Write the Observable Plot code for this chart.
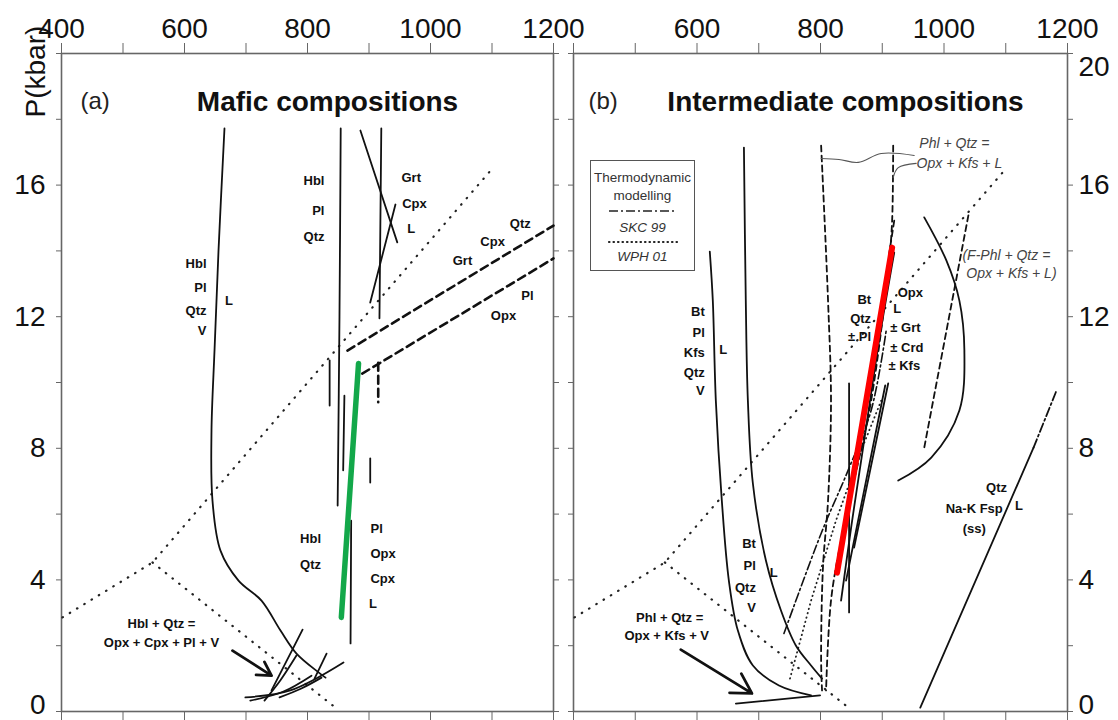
<!DOCTYPE html>
<html><head><meta charset="utf-8">
<script src="https://cdn.jsdelivr.net/npm/d3@7"></script>
<script src="https://cdn.jsdelivr.net/npm/@observablehq/plot@0.6"></script>
<style>
body{margin:0;background:#fff;}
#wrap{position:relative;width:1118px;height:720px;font-family:"Liberation Sans",Arial,Helvetica,sans-serif;overflow:hidden;}
#wrap > svg{position:absolute;top:0;overflow:visible;}
#legend{position:absolute;left:590px;top:160px;width:103px;height:109px;border:1.5px solid #555;background:#fff;}
</style></head><body><div id="wrap"></div>
<script>
// ---------- axes ----------
const xTicks = [400,500,600,700,800,900,1000,1100,1200];
const xLabelsA = [400,600,800,1000,1200];
const xLabelsB = [600,800,1000,1200];
const yTicks = [0,2,4,6,8,10,12,14,16,18,20];
const yLabels = [4,8,12,16];
const yBottomLabel = [0];
const yTopLabel = [20];

// ---------- shared dotted reactions (T °C, P kbar) ----------
const dottedSolidus = [[401.6,2.86],[548,4.53],[1097.6,16.44]];
const dottedBreakdown = [[548,4.53],[850,0.05]];

// ---------- panel (a) mafic ----------
const hblSolidus = [[665,17.72],[655.3,14.01],[648.8,10.97],[643.9,8.54],[645.5,6.41],[658.5,4.89],[687.8,3.98],[725.2,3.37],[756.1,2.46],[782.1,1.76],[817.9,1.19],[829.3,1.03]];
const hblOut = [[854,17.72],[852,12],[849,6.26]];
const grtVert = [[920,17.72],[917,11.95]];
const grtDiagA = [[886,17.66],[946,14.26]];
const grtDiagB = [[943,15.41],[902,12.43]];
const segA = [[836,10.67],[836,9.3]];
const segB = [[860,9.6],[858,7.33]];
const segC = [[902,7.69],[902,6.96]];
const segD = [[871,5.8],[870,2.07]];
const lowA1 = [[792,2.49],[765,1.5],[741.5,0.64]];
const lowA2 = [[782,1.7],[756,0.95],[730,0.33]];
const lowA3 = [[831,1.76],[811.4,1.0]];
const lowR1 = [[699,0.43],[772,0.64],[858.5,1.49]];
const lowR2 = [[707,0.33],[760,0.6],[806.5,1.09]];
const lowR3 = [[754.5,0.43],[790,0.7],[822.8,1.03]];
const dashUpper = [[865,10.97],[1200,14.77]];
const dashLower = [[889,10.27],[1200,13.77]];
const dashShort = [[915,10.6],[915,9.4]];
const greenLine = [[883,10.58],[855,2.86]];
const arrowA = [[678,1.85],[741.5,1.09]];

const labA_end = [
  {t:"Hbl",T:635.8,P:13.62},{t:"Pl",T:635.8,P:12.89},{t:"Qtz",T:635.8,P:12.19},{t:"V",T:635.8,P:11.58},
  {t:"Hbl",T:827.6,P:16.14},{t:"Pl",T:827.6,P:15.23},{t:"Qtz",T:827.6,P:14.44},
  {t:"Hbl",T:822,P:5.26},{t:"Qtz",T:822,P:4.47}
];
const labA_start = [
  {t:"L",T:666,P:12.49},
  {t:"Grt",T:952.8,P:16.23},{t:"Cpx",T:954,P:15.44},{t:"L",T:962,P:14.68},
  {t:"Pl",T:902.4,P:5.56},{t:"Opx",T:902.4,P:4.8},{t:"Cpx",T:902.4,P:4.04},{t:"L",T:900,P:3.28}
];
const labA_mid = [
  {t:"Qtz",T:1146,P:14.83},{t:"Cpx",T:1101,P:14.29},{t:"Grt",T:1052,P:13.71},
  {t:"Pl",T:1157.7,P:12.64},{t:"Opx",T:1118.7,P:12.04},
  {t:"Hbl + Qtz =",T:562.6,P:2.67},{t:"Opx + Cpx + Pl + V",T:562.6,P:2.1}
];

// ---------- panel (b) intermediate ----------
const btKfsCurve = [[620.7,13.98],[625.6,12.49],[630.5,9.45],[640.2,6.41],[651.6,3.98],[666.2,2.46],[690.5,1.4],[732.7,0.79],[784.7,0.49]];
const btPlCurve = [[676,17.14],[679,12.49],[682.4,9.45],[690.5,6.93],[711.6,4.59],[736,3.07],[760.3,2.0],[784.7,1.4],[802.5,1.0]];
const reactionV = [[663,0.24],[799.3,0.49]];
const arrowB = [[573.7,1.88],[689,0.55]];
const dashedB1 = [[801,17.2],[812.2,12.49],[817,9.45],[812.2,6.41],[804,4.38],[801,1.55],[802.5,0.64]];
const dashedB2 = [[917.7,17.2],[916,14.92],[911.2,13.71],[882,9.45],[854.4,7.02],[833.3,5.2],[817,3.37],[809,0.64]];
const dashedB3 = [[919.4,14.92],[911.2,13.92]];
const solidB3 = [[919.4,13.95],[895,11.28],[869,8.02],[849.6,5.59],[833.3,3.37]];
const solidB4 = [[846.3,9.97],[846.3,3.01]];
const solidB5 = [[909.6,9.97],[854.4,4.98]];
const solidB6 = [[904.8,9.91],[841.4,3.98]];
const dashDotB = [[740.8,2.37],[801,5.41],[844.7,7.33],[882,9.15],[906.4,11.58]];
const dottedB = [[750.6,1.0],[784.7,3.37],[825.2,5.81],[865.8,7.93],[898.3,9.45]];
const fPhlSolid = [[968,15.02],[1003.8,13.71],[1024.9,12.49],[1033,10.97],[1024.9,9.15],[979.4,7.72],[925.9,7.02]];
const fPhlDashed = [[1039.5,15.08],[968,8.02]];
const naKSolid = [[961.6,0.12],[1145,8.02]];
const naKDashed = [[1145,8.02],[1182.3,9.76]];
const redLine = [[916,14.1],[826.8,4.22]];
const braceA = [[801,16.81],[830,16.78],[861,16.69],[898.3,16.96],[951.8,16.9]];
const braceB = [[917.7,16.23],[925.9,16.53],[955,16.66]];

const labB_end = [
  {t:"Bt",T:612.6,P:12.16},{t:"Pl",T:612.6,P:11.52},{t:"Kfs",T:612.6,P:10.91},{t:"Qtz",T:612.6,P:10.3},{t:"V",T:612.6,P:9.76},
  {t:"Bt",T:695.4,P:5.11},{t:"Pl",T:695.4,P:4.44},{t:"Qtz",T:695.4,P:3.77},{t:"V",T:695.4,P:3.16},
  {t:"Bt",T:882,P:12.52},{t:"Qtz",T:882,P:11.95},{t:"± Pl",T:882,P:11.4}
];
const labB_start = [
  {t:"L",T:636,P:11.0},{t:"L",T:718,P:4.22},
  {t:"Opx",T:925,P:12.74},{t:"L",T:918,P:12.25},{t:"± Grt",T:913,P:11.67},{t:"± Crd",T:913,P:11.06},{t:"± Kfs",T:910,P:10.52},
  {t:"L",T:1115,P:6.26}
];
const labB_mid = [
  {t:"Qtz",T:1085,P:6.81},{t:"Na-K Fsp",T:1049,P:6.17},{t:"(ss)",T:1049,P:5.56},
  {t:"Phl + Qtz =",T:555.8,P:2.86},{t:"Opx + Kfs + V",T:551,P:2.31}
];
const labB_italic = [
  {t:"Phl + Qtz =",T:1016.7,P:17.26},{t:"Opx + Kfs + L",T:1024.9,P:16.66},
  {t:"(F-Phl + Qtz =",T:1101,P:13.86},{t:"Opx + Kfs + L)",T:1109.2,P:13.31}
];

// ---------- styles ----------
const FONT = "Liberation Sans, Arial, Helvetica, sans-serif";
const XY = {x: d => d[0], y: d => d[1]};
const solid = {...XY, stroke:"#111", strokeWidth:1.8, curve:"catmull-rom"};
const dashedThick = {...XY, stroke:"#111", strokeWidth:2.6, strokeDasharray:"8,5"};
const dashedThin = {...XY, stroke:"#111", strokeWidth:1.8, strokeDasharray:"6,4", curve:"catmull-rom"};
const dotted = {...XY, stroke:"#222", strokeWidth:2.2, strokeDasharray:"0.5,8", strokeLinecap:"round"};
const dashDot = {...XY, stroke:"#111", strokeWidth:1.6, strokeDasharray:"9,3,2,3", curve:"catmull-rom"};
const boldLab = {x:"T", y:"P", text:"t", fontWeight:"bold", fontSize:13, fill:"#111", fontFamily:FONT};
const arrowOpts = {x1:d=>d[0][0], y1:d=>d[0][1], x2:d=>d[1][0], y2:d=>d[1][1], stroke:"#111", strokeWidth:2.8, headLength:12};
const bigText = {fontSize:28, fill:"#111", fontFamily:FONT};

function frameMarks(side, xLabels) {
  const labelled = side === "left" ? "left" : "right";
  const other = side === "left" ? "right" : "left";
  const pad = side === "left" ? 11 : 6;
  return [
    Plot.frame({stroke:"#666", strokeWidth:1.6}),
    Plot.axisX(xTicks, {anchor:"top", label:null, tickSize:11, tickPadding:5, stroke:"#666", fill:"#111", fontSize:28, fontFamily:FONT,
      tickFormat: d => xLabels.includes(d) ? String(d) : ""}),
    Plot.axisX(xTicks, {anchor:"bottom", label:null, tickSize:9, stroke:"#666", tickFormat: () => ""}),
    Plot.axisY(yTicks, {anchor:labelled, label:null, tickSize:5, tickPadding:pad, stroke:"#666", fill:"#111", fontSize:28, fontFamily:FONT,
      tickFormat: d => yLabels.includes(d) ? String(d) : ""}),
    Plot.axisY(yTicks, {anchor:other, label:null, tickSize:5, stroke:"#666", tickFormat: () => ""}),
    Plot.text(yBottomLabel, {y:d=>d, frameAnchor:labelled, dx: side==="left" ? -(5+pad) : 5+pad, dy:-6,
      textAnchor: side==="left" ? "end" : "start", ...bigText})
  ];
}

const common = {
  height:720, marginTop:53, marginBottom:9,
  x:{domain:[400,1200], axis:null}, y:{domain:[0,20], axis:null},
  style:{fontFamily:FONT, background:"transparent", overflow:"visible"}
};

const plotA = Plot.plot({
  ...common, width:563, marginLeft:61, marginRight:10,
  marks: [
    ...frameMarks("left", xLabelsA),
    Plot.text(["P(kbar)"], {frameAnchor:"top-left", dx:-36, dy:64, rotate:-90, ...bigText}),
    Plot.text(["(a)"], {frameAnchor:"top-left", dx:19, dy:38, textAnchor:"start", fontSize:24, fill:"#222", fontFamily:FONT}),
    Plot.text(["Mafic compositions"], {frameAnchor:"top", dx:20, dy:38, fontWeight:"bold", ...bigText}),
    Plot.line(dottedSolidus, dotted),
    Plot.line(dottedBreakdown, dotted),
    ...[hblSolidus, hblOut, grtVert, grtDiagA, grtDiagB, segA, segB, segC, segD, lowA1, lowA2, lowA3, lowR1, lowR2, lowR3].map(c => Plot.line(c, solid)),
    ...[dashUpper, dashLower, dashShort].map(c => Plot.line(c, dashedThick)),
    Plot.line(greenLine, {...XY, stroke:"#13a84a", strokeWidth:5.5}),
    Plot.arrow([arrowA], arrowOpts),
    Plot.text(labA_end, {...boldLab, textAnchor:"end"}),
    Plot.text(labA_start, {...boldLab, textAnchor:"start"}),
    Plot.text(labA_mid, boldLab)
  ]
});

const plotB = Plot.plot({
  ...common, width:555, marginLeft:10, marginRight:51,
  marks: [
    ...frameMarks("right", xLabelsB),
    Plot.text(yTopLabel, {y:d=>d, frameAnchor:"right", dx:11, dy:14, textAnchor:"start", ...bigText}),
    Plot.text(["(b)"], {frameAnchor:"top-left", dx:15, dy:38, textAnchor:"start", fontSize:24, fill:"#222", fontFamily:FONT}),
    Plot.text(["Intermediate compositions"], {frameAnchor:"top", dx:25, dy:38, fontWeight:"bold", ...bigText}),
    Plot.line(dottedSolidus, dotted),
    Plot.line(dottedBreakdown, dotted),
    Plot.line(dottedB, {...dotted, strokeWidth:1.8, strokeDasharray:"0.5,4"}),
    ...[btKfsCurve, btPlCurve, reactionV, solidB3, solidB4, solidB5, solidB6, fPhlSolid, naKSolid].map(c => Plot.line(c, solid)),
    ...[dashedB1, dashedB2, dashedB3, fPhlDashed].map(c => Plot.line(c, dashedThin)),
    Plot.line(naKDashed, {...dashDot, strokeWidth:1.8}),
    Plot.line(dashDotB, dashDot),
    Plot.line(braceA, {...XY, stroke:"#555", strokeWidth:1.1, curve:"catmull-rom"}),
    Plot.line(braceB, {...XY, stroke:"#555", strokeWidth:1.1, curve:"catmull-rom"}),
    Plot.line(redLine, {...XY, stroke:"#ff0000", strokeWidth:6}),
    Plot.arrow([arrowB], arrowOpts),
    Plot.text(labB_end, {...boldLab, textAnchor:"end"}),
    Plot.text(labB_start, {...boldLab, textAnchor:"start"}),
    Plot.text(labB_mid, boldLab),
    Plot.text(labB_italic, {x:"T", y:"P", text:"t", fontStyle:"italic", fontSize:14, fill:"#444", fontFamily:FONT})
  ]
});

const wrap = document.getElementById("wrap");
plotA.style.left = "0px";
plotB.style.left = "563px";
wrap.appendChild(plotA);
wrap.appendChild(plotB);

// legend box (line-style key)
const legendItems = ["Thermodynamic", "modelling", "SKC 99", "WPH 01"];
const leg = d3.select(wrap).append("div").attr("id", "legend");
const ls = leg.append("svg").attr("width", 103).attr("height", 109).style("display","block");
const tx = (t, y, it) => ls.append("text").attr("x", 51.5).attr("y", y).attr("text-anchor","middle")
  .attr("dominant-baseline","central").attr("font-size", 13.5).attr("fill","#333")
  .attr("font-style", it ? "italic" : "normal").attr("font-family", FONT).text(t);
tx(legendItems[0], 16); tx(legendItems[1], 34); tx(legendItems[2], 66, true); tx(legendItems[3], 95, true);
ls.append("line").attr("x1",18).attr("x2",86).attr("y1",50).attr("y2",50).attr("stroke","#222").attr("stroke-width",1.6).attr("stroke-dasharray","9,3,2,3");
ls.append("line").attr("x1",18).attr("x2",86).attr("y1",81).attr("y2",81).attr("stroke","#222").attr("stroke-width",2.2).attr("stroke-dasharray","0.5,4").attr("stroke-linecap","round");
</script></body></html>
